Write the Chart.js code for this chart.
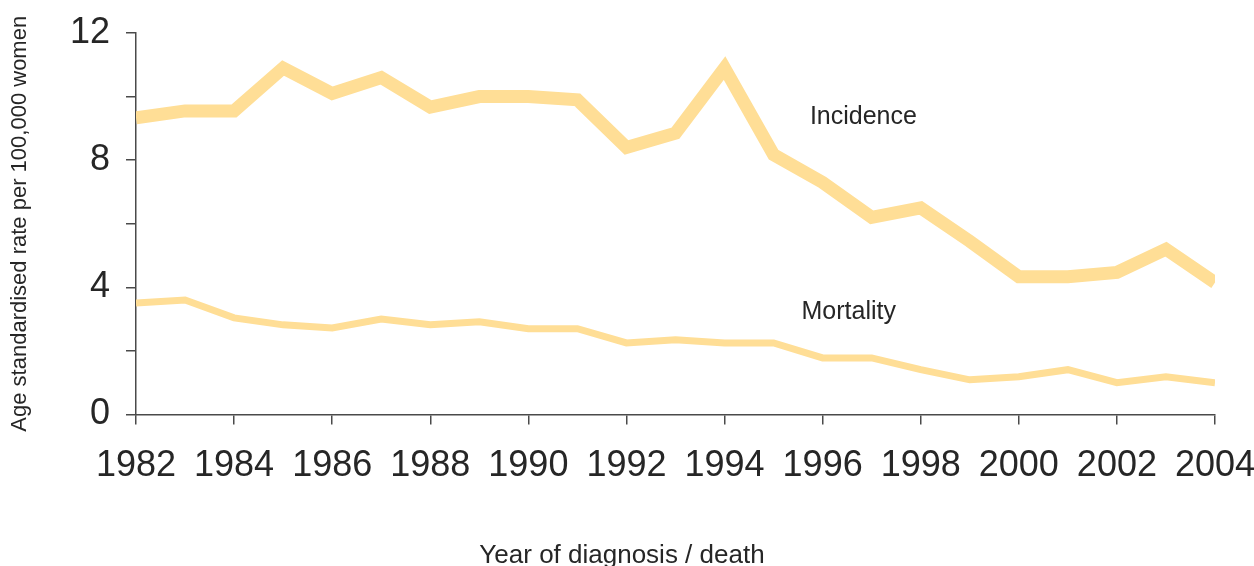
<!DOCTYPE html>
<html>
<head>
<meta charset="utf-8">
<script src="https://cdn.jsdelivr.net/npm/chart.js@4/dist/chart.umd.min.js"></script>
<style>
  html, body { margin: 0; padding: 0; background: #fff; }
  #myChart { display: block; }
</style>
</head>
<body>
<canvas id="myChart" width="1254" height="566"></canvas>
<script>
// values
var years = [1982, 1983, 1984, 1985, 1986, 1987, 1988, 1989, 1990, 1991, 1992,
             1993, 1994, 1995, 1996, 1997, 1998, 1999, 2000, 2001, 2002, 2003, 2004];
var incidence = [9.33, 9.55, 9.55, 10.9, 10.1, 10.6, 9.67, 10.0, 10.0, 9.9, 8.4,
                 8.85, 10.9, 8.17, 7.3, 6.2, 6.5, 5.45, 4.33, 4.33, 4.47, 5.2, 4.15];
var mortality = [3.51, 3.6, 3.04, 2.82, 2.72, 3.0, 2.82, 2.92, 2.7, 2.7, 2.25,
                 2.35, 2.25, 2.25, 1.78, 1.78, 1.41, 1.09, 1.19, 1.41, 1.0, 1.19, 1.0];
var yTickLabels = [0, 4, 8, 12];
var seriesLabels = ['Incidence', 'Mortality'];
var xTitle = 'Year of diagnosis / death';

var FONT = '"Liberation Sans", Arial, Helvetica, sans-serif';
var LINE = '#FFDE96';
var AXIS = '#4a4a4a';
var TEXT = '#262626';

function points(vals) {
  return years.map(function (y, i) { return { x: y, y: vals[i] }; });
}

// series names next to the lines (data units) and the x axis title,
// which sits centred on the whole picture rather than on the plot area
var extraText = {
  id: 'extraText',
  afterDraw: function (chart) {
    var ctx = chart.ctx;
    var xs = chart.scales.x, ys = chart.scales.y;
    var spots = [[1995.74, 9.14], [1995.57, 3.0]];
    ctx.save();
    ctx.fillStyle = TEXT;
    ctx.font = '25px ' + FONT;
    ctx.textAlign = 'left';
    ctx.textBaseline = 'alphabetic';
    seriesLabels.forEach(function (t, i) {
      ctx.fillText(t, xs.getPixelForValue(spots[i][0]), ys.getPixelForValue(spots[i][1]));
    });
    ctx.font = '26px ' + FONT;
    ctx.textAlign = 'center';
    ctx.fillText(xTitle, chart.width / 2 - 5, chart.height - 3.5);
    ctx.restore();
  }
};

var ctx = document.getElementById('myChart').getContext('2d');
var myChart = new Chart(ctx, {
  type: 'line',
  data: {
    datasets: [
      { label: seriesLabels[0], data: points(incidence), borderColor: LINE, borderWidth: 13 },
      { label: seriesLabels[1], data: points(mortality), borderColor: LINE, borderWidth: 7 }
    ]
  },
  options: {
    responsive: false,
    animation: false,
    devicePixelRatio: 1,
    layout: { padding: { left: 0, right: 39, top: 33, bottom: 0 } },
    elements: {
      point: { radius: 0 },
      line: { tension: 0, borderJoinStyle: 'miter', borderCapStyle: 'butt', fill: false }
    },
    plugins: { legend: { display: false }, tooltip: { enabled: false } },
    scales: {
      x: {
        type: 'linear',
        min: 1982,
        max: 2004,
        ticks: {
          stepSize: 2,
          color: TEXT,
          padding: 20,
          maxRotation: 0,
          font: { family: FONT, size: 36, lineHeight: 1.2 },
          callback: function (v) { return String(v); }
        },
        grid: { drawOnChartArea: false, drawTicks: true, tickLength: 10, color: AXIS, lineWidth: 1.5 },
        border: { display: true, color: AXIS, width: 1.5 },
        title: { display: false },
        afterFit: function (scale) {
          scale.height = 151.5;
          scale.paddingLeft = 0;
          scale.paddingRight = 0;
        }
      },
      y: {
        min: 0,
        max: 12,
        ticks: {
          stepSize: 2,
          color: TEXT,
          padding: 16,
          font: { family: FONT, size: 36, lineHeight: 1.2 },
          callback: function (v) { return yTickLabels.indexOf(v) >= 0 ? String(v) : ''; }
        },
        grid: { drawOnChartArea: false, drawTicks: true, tickLength: 10, color: AXIS, lineWidth: 1.5 },
        border: { display: true, color: AXIS, width: 1.5 },
        title: {
          display: true,
          text: 'Age standardised rate per 100,000 women',
          color: TEXT,
          font: { family: FONT, size: 22, lineHeight: 1 },
          padding: { top: 9, bottom: 0 }
        },
        afterFit: function (scale) {
          scale.width = 136;
          scale.paddingTop = 0;
          scale.paddingBottom = 0;
        }
      }
    }
  },
  plugins: [extraText]
});
</script>
</body>
</html>
